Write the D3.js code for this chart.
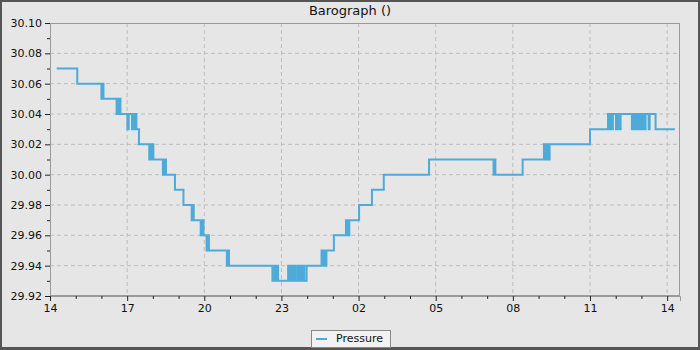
<!DOCTYPE html>
<html>
<head>
<meta charset="utf-8">
<script src="https://cdn.jsdelivr.net/npm/d3@7"></script>
<style>
html,body{margin:0;padding:0;background:#e6e6e6;}
svg{display:block;font-family:"DejaVu Sans",sans-serif;}
</style>
</head>
<body>
<svg id="chart" width="700" height="350"></svg>
<script>
// ---- data ----
const title = "Barograph ()";
const seriesName = "Pressure";
const startTime = new Date(2024, 0, 1, 14, 0);
// hours since 14:00
const hours = [0.26,1.06,2.00,2.04,2.08,2.59,2.63,2.66,2.70,2.74,3.01,3.06,3.19,3.23,3.29,3.33,3.36,3.46,
3.86,3.91,3.95,3.99,4.02,4.39,4.45,4.51,4.86,5.19,5.51,5.55,5.59,5.86,5.91,5.97,6.09,6.14,6.18,6.88,6.92,6.96,
8.65,8.73,8.77,8.82,8.87,9.26,9.33,9.37,9.43,9.49,9.53,9.61,9.66,9.72,9.78,9.82,9.89,9.98,
10.56,10.62,10.66,10.71,10.75,11.04,11.51,11.56,11.64,12.02,12.52,12.98,14.74,17.25,17.29,17.32,18.38,
19.21,19.27,19.33,19.39,19.43,21.00,21.70,21.75,21.80,21.84,21.89,22.01,22.05,22.11,22.19,
22.63,22.67,22.73,22.77,22.83,22.87,22.92,22.96,23.02,23.06,23.12,23.16,23.28,23.32,23.55,24.30];
const pressure = [30.07,30.06,30.05,30.06,30.05,30.04,30.05,30.04,30.05,30.04,30.03,30.04,30.03,30.04,30.03,30.04,30.03,30.02,
30.01,30.02,30.01,30.02,30.01,30.00,30.01,30.00,29.99,29.98,29.97,29.98,29.97,29.96,29.97,29.96,29.95,29.96,29.95,29.94,29.95,29.94,
29.93,29.94,29.93,29.94,29.93,29.94,29.93,29.94,29.93,29.94,29.93,29.94,29.93,29.94,29.93,29.94,29.93,29.94,
29.95,29.94,29.95,29.94,29.95,29.96,29.97,29.96,29.97,29.98,29.99,30.00,30.01,30.00,30.01,30.00,30.01,
30.02,30.01,30.02,30.01,30.02,30.03,30.04,30.03,30.04,30.03,30.04,30.03,30.04,30.03,30.04,
30.03,30.04,30.03,30.04,30.03,30.04,30.03,30.04,30.03,30.04,30.03,30.04,30.03,30.04,30.03,30.03];
const yTicks = [29.92,29.94,29.96,29.98,30.00,30.02,30.04,30.06,30.08,30.10];
const xTickHours = [0,3,6,9,12,15,18,21,24];
const yDomain = [29.92, 30.10];
const xSpanHours = 24.5;

// ---- drawing ----
const svg = d3.select("#chart");
const W = 700, H = 350;
const m = {left:50, right:20, top:23, bottom:54};
const pw = W - m.left - m.right, ph = H - m.top - m.bottom;

svg.append("rect").attr("width",W).attr("height",H).attr("fill","#555");
svg.append("rect").attr("x",2).attr("y",2).attr("width",W-4).attr("height",H-5).attr("fill","#e6e6e6");

const hr = 3600*1000;
const x = d3.scaleTime().domain([startTime, new Date(+startTime + xSpanHours*hr)]).range([m.left, m.left+pw]);
const y = d3.scaleLinear().domain(yDomain).range([m.top+ph, m.top]);

const data = hours.map((h,i)=>({t:new Date(+startTime + h*hr), v:pressure[i]}));

// grid
const majorX = xTickHours.map(h=>new Date(+startTime + h*hr));
const g = svg.append("g");
g.selectAll("line.gx").data(majorX.slice(1)).join("line")
  .attr("x1",d=>x(d)).attr("x2",d=>x(d)).attr("y1",m.top).attr("y2",m.top+ph)
  .attr("stroke","#bdbdbd").attr("stroke-dasharray","4,3");
g.selectAll("line.gy").data(yTicks.slice(1,-1)).join("line")
  .attr("x1",m.left).attr("x2",m.left+pw).attr("y1",d=>y(d)).attr("y2",d=>y(d))
  .attr("stroke","#bdbdbd").attr("stroke-dasharray","4,3");

// plot border
svg.append("rect").attr("x",m.left+0.5).attr("y",m.top+0.5).attr("width",pw-1).attr("height",ph-1)
  .attr("fill","none").attr("stroke","#9a9a9a");

// line
svg.append("path").datum(data)
  .attr("d", d3.line().x(d=>x(d.t)).y(d=>y(d.v)).curve(d3.curveStepAfter))
  .attr("fill","none").attr("stroke","#4eaad9").attr("stroke-width",2);

// y axis
const yAxis = d3.axisLeft(y).tickValues(yTicks).tickFormat(d3.format(".2f")).tickSize(5).tickPadding(3);
const ya = svg.append("g").attr("transform",`translate(${m.left},0)`).call(yAxis);
const yMinor = d3.range(0,9).map(i=>+(29.93 + i*0.02).toFixed(2));
const yma = svg.append("g").attr("transform",`translate(${m.left},0)`)
  .call(d3.axisLeft(y).tickValues(yMinor).tickFormat("").tickSize(3));

// x axis
const xAxis = d3.axisBottom(x).tickValues(majorX).tickFormat(d3.timeFormat("%H")).tickSize(5).tickPadding(3);
const xa = svg.append("g").attr("transform",`translate(0,${m.top+ph})`).call(xAxis);
const minorX = d3.range(0,25).filter(h=>h%3!==0).map(h=>new Date(+startTime + h*hr));
const xma = svg.append("g").attr("transform",`translate(0,${m.top+ph})`)
  .call(d3.axisBottom(x).tickValues(minorX).tickFormat("").tickSize(3));

[ya,yma,xa,xma].forEach(a=>{
  a.select(".domain").attr("stroke","#9a9a9a");
  a.selectAll(".tick line").attr("stroke","#222");
  a.selectAll("text").attr("fill","#111").style("font-size","11px").style("font-family","DejaVu Sans, sans-serif");
});
yma.select(".domain").remove(); xma.select(".domain").remove();

// title
svg.append("text").attr("x",W/2).attr("y",15).attr("text-anchor","middle")
  .style("font-size","13px").attr("fill","#111").text(title);

// legend
const lg = svg.append("g");
lg.append("rect").attr("x",311.5).attr("y",330.5).attr("width",79).attr("height",17)
  .attr("fill","#f2f2f2").attr("stroke","#888");
lg.append("line").attr("x1",316).attr("x2",327).attr("y1",339).attr("y2",339)
  .attr("stroke","#4eaad9").attr("stroke-width",2);
lg.append("text").attr("x",336).attr("y",342).style("font-size","11px").attr("fill","#111").text(seriesName);
</script>
</body>
</html>
